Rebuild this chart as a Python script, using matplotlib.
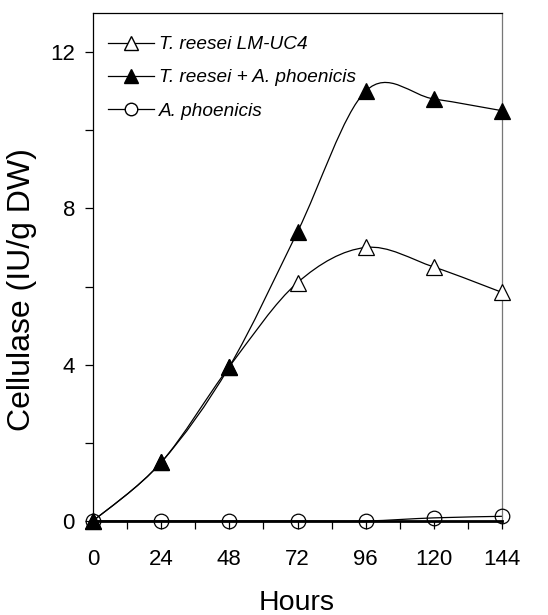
import numpy as np
import matplotlib
matplotlib.use("Agg")
import matplotlib.pyplot as plt
from matplotlib.path import Path
from matplotlib.patches import PathPatch
from matplotlib.lines import Line2D

hours = [0, 24, 48, 72, 96, 120, 144]
reesei = [0.0, 1.5, 3.95, 6.1, 7.0, 6.5, 5.85]
mixed = [0.0, 1.5, 3.95, 7.4, 11.0, 10.8, 10.5]
phoenicis = [0.0, 0.0, 0.0, 0.0, 0.0, 0.08, 0.12]
labels = ["T. reesei LM-UC4", "T. reesei + A. phoenicis", "A. phoenicis"]

plt.rcParams['font.family'] = ['Liberation Sans', 'DejaVu Sans']

fig = plt.figure(figsize=(5.48, 6.15), dpi=100)
ax = fig.add_axes([93/548, 1-521/615, (502-93)/548, (521-13)/615])


def smooth_path(x, y, tension=0.5):
    x = np.asarray(x, float); y = np.asarray(y, float)
    n = len(x)
    verts = [(x[0], y[0])]
    codes = [Path.MOVETO]
    for i in range(n - 1):
        p0 = np.array([x[max(i-1, 0)], y[max(i-1, 0)]])
        p1 = np.array([x[i], y[i]])
        p2 = np.array([x[i+1], y[i+1]])
        p3 = np.array([x[min(i+2, n-1)], y[min(i+2, n-1)]])
        c1 = p1 + (p2 - p0) * tension / 3
        c2 = p2 - (p3 - p1) * tension / 3
        verts += [tuple(c1), tuple(c2), tuple(p2)]
        codes += [Path.CURVE4] * 3
    return Path(verts, codes)

for ys in (reesei, mixed, phoenicis):
    ax.add_patch(PathPatch(smooth_path(hours, ys, tension=0.5), fill=False,
                           edgecolor='black', lw=0.9, zorder=2, clip_on=False))

ax.plot(hours, reesei, ls='none', marker='^', ms=11.5, mfc='white', mec='black',
        mew=0.9, zorder=4, clip_on=False)
ax.plot(hours, mixed, ls='none', marker='^', ms=11.5, mfc='black', mec='black',
        mew=0.9, zorder=5, clip_on=False)
ax.plot(hours, phoenicis, ls='none', marker='o', ms=10.5, mfc='none', mec='black',
        mew=0.9, zorder=3, clip_on=False)

ax.set_xlim(0, 144)
ax.set_ylim(0, 13)
ax.set_xticks([0, 24, 48, 72, 96, 120, 144])
ax.set_xticks([12, 36, 60, 84, 108, 132], minor=True)
ax.set_yticks([0, 4, 8, 12])
ax.set_yticks([2, 6, 10], minor=True)
ax.tick_params(axis='both', which='both', direction='out', length=6, width=0.9,
               labelsize=16, colors='black')
ax.tick_params(axis='x', pad=14)
ax.tick_params(axis='y', pad=7)
for s in ('left', 'top'):
    ax.spines[s].set_linewidth(0.9)
ax.spines['right'].set_linewidth(0.9)
ax.spines['right'].set_color('#777777')
ax.spines['bottom'].set_linewidth(2.0)

ax.set_xlabel('Hours', fontsize=20.5)
ax.set_ylabel('Cellulase (IU/g DW)', fontsize=23)
ax.xaxis.set_label_coords(0.5, -(603 - 521) / 508, transform=None) if False else None
ax.xaxis.label.set_verticalalignment('center')
ax.xaxis.set_label_coords((297 - 93) / 409, -(603 - 521) / 508)
ax.yaxis.label.set_verticalalignment('center')
ax.yaxis.set_label_coords(-(93 - 22) / 409, (521 - 290) / 508)

handles = [
    Line2D([], [], color='black', lw=0.9, marker='^', ms=10, mfc='white', mec='black'),
    Line2D([], [], color='black', lw=0.9, marker='^', ms=10, mfc='black', mec='black'),
    Line2D([], [], color='black', lw=0.9, marker='o', ms=9, mfc='white', mec='black'),
]
leg = ax.legend(handles, labels, loc='upper left', bbox_to_anchor=(0.037, 0.955),
                frameon=False, handlelength=2.4, handletextpad=0.27,
                borderpad=0, borderaxespad=0,
                labelspacing=0.84, prop={'style': 'italic', 'size': 13.7})

fig.savefig('out.png', dpi=100)
